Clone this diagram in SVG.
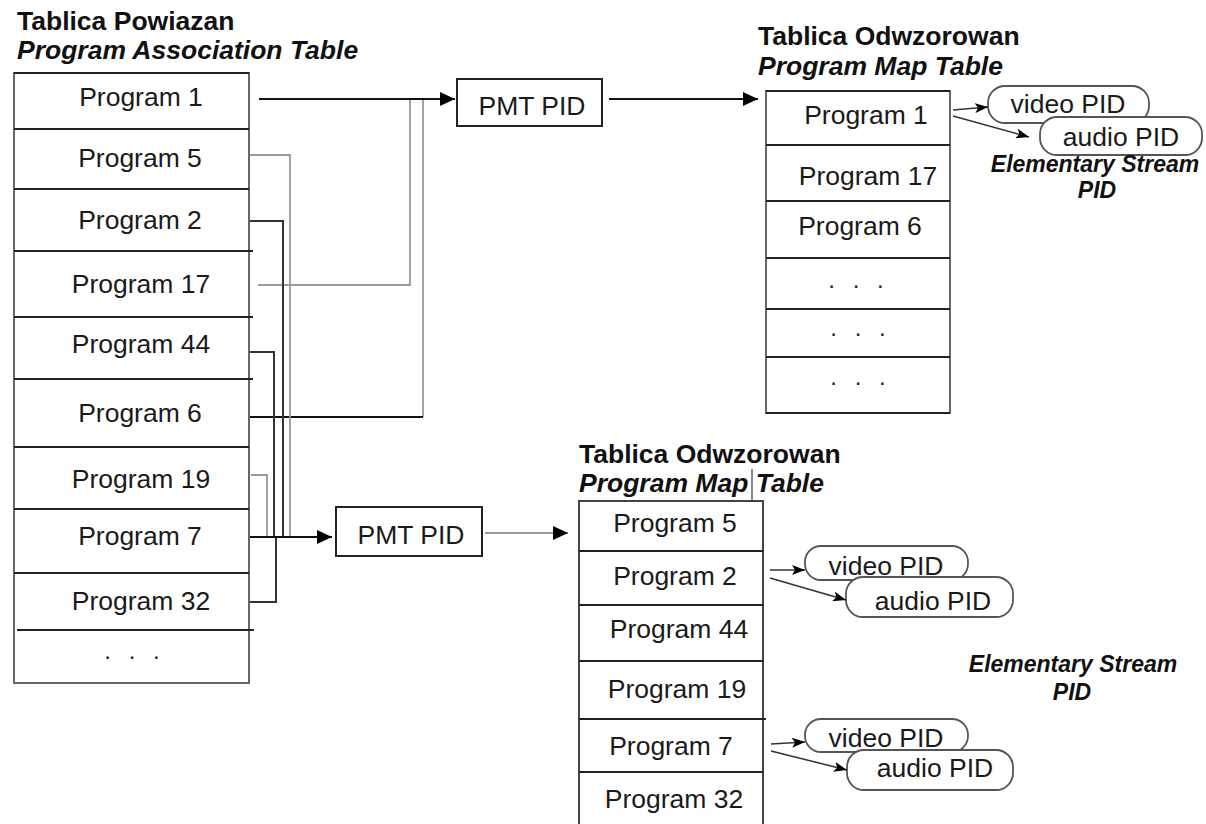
<svg xmlns="http://www.w3.org/2000/svg" width="1206" height="824" viewBox="0 0 1206 824">
  <style>
    .bg { fill: #ffffff; }
    .title { font-family: "Liberation Sans", Arial, sans-serif; font-size: 26.5px; font-weight: bold; fill: #111; }
    .subtitle { font-family: "Liberation Sans", Arial, sans-serif; font-size: 26.5px; font-weight: bold; font-style: italic; fill: #111; }
    .cell { font-family: "Liberation Sans", Arial, sans-serif; font-size: 26.5px; fill: #1a1a1a; text-anchor: middle; }
    .dots { font-family: "Liberation Sans", Arial, sans-serif; font-size: 24px; fill: #222; text-anchor: middle; word-spacing: 11px; }
    .es { font-family: "Liberation Sans", Arial, sans-serif; font-size: 23px; font-weight: bold; font-style: italic; fill: #111; text-anchor: middle; }
    .frame { fill: #ffffff; stroke: #666; stroke-width: 2; }
    .row { stroke: #222; stroke-width: 2; }
    .pill { fill: #ffffff; stroke: #555; stroke-width: 1.8; }
    .link-main { fill: none; stroke: #111; stroke-width: 2.2; }
    .link-dark { fill: none; stroke: #333; stroke-width: 2; }
    .link-grey { fill: none; stroke: #999; stroke-width: 1.8; }
    .link-thin { fill: none; stroke: #777; stroke-width: 1.4; }
    .link-es { fill: none; stroke: #333; stroke-width: 1.5; }
  </style>
  <defs>
    <marker id="arrow-big" viewBox="0 0 15 14" refX="15" refY="7" markerWidth="15" markerHeight="14" markerUnits="userSpaceOnUse" orient="auto">
      <path d="M0,0 L15,7 L0,14 z" fill="#000"/>
    </marker>
    <marker id="arrow-small" viewBox="0 0 13 10" refX="13" refY="5" markerWidth="13" markerHeight="10" markerUnits="userSpaceOnUse" orient="auto">
      <path d="M0,0 L13,5 L0,10 L3,5 z" fill="#000"/>
    </marker>
  </defs>

  <rect class="bg" x="0" y="0" width="1206" height="824"/>

  <!-- Program Association Table -->
  <g id="pat">
    <text class="title" x="17" y="30">Tablica Powiazan</text>
    <text class="subtitle" x="17" y="59">Program Association Table</text>
    <rect class="frame" x="14" y="73" width="235" height="610"/>
    <line class="row" x1="14" y1="73" x2="249" y2="73"/>
    <line class="row" x1="14" y1="129" x2="249" y2="129"/>
    <line class="row" x1="14" y1="189" x2="249" y2="189"/>
    <line class="row" x1="14" y1="251" x2="253" y2="251"/>
    <line class="row" x1="14" y1="317" x2="253" y2="317"/>
    <line class="row" x1="14" y1="379" x2="253" y2="379" stroke="#777"/>
    <line class="row" x1="14" y1="447" x2="249" y2="447" stroke="#777"/>
    <line class="row" x1="14" y1="509" x2="249" y2="509"/>
    <line class="row" x1="14" y1="573" x2="249" y2="573"/>
    <line class="row" x1="17" y1="630" x2="254" y2="630"/>
    <text class="cell" x="141" y="106">Program 1</text>
    <text class="cell" x="140" y="167">Program 5</text>
    <text class="cell" x="140" y="229">Program 2</text>
    <text class="cell" x="141" y="293">Program 17</text>
    <text class="cell" x="141" y="353">Program 44</text>
    <text class="cell" x="140" y="422">Program 6</text>
    <text class="cell" x="141" y="488">Program 19</text>
    <text class="cell" x="140" y="545">Program 7</text>
    <text class="cell" x="141" y="610">Program 32</text>
    <text class="dots" x="132" y="659">. . .</text>
  </g>

  <!-- PMT PID box, upper -->
  <g id="pmt-pid-upper">
    <rect x="457" y="79" width="145" height="47" fill="#fff" stroke="#222" stroke-width="2"/>
    <text class="cell" x="532" y="115">PMT PID</text>
  </g>

  <!-- PMT PID box, lower -->
  <g id="pmt-pid-lower">
    <rect x="336" y="507" width="146" height="49" fill="#fff" stroke="#222" stroke-width="2"/>
    <text class="cell" x="411" y="544">PMT PID</text>
  </g>

  <!-- Program Map Table, upper -->
  <g id="pmt-upper">
    <text class="title" x="758" y="45">Tablica Odwzorowan</text>
    <text class="subtitle" x="758" y="75">Program Map Table</text>
    <rect class="frame" x="766" y="91" width="184" height="322"/>
    <line class="row" x1="766" y1="91" x2="950" y2="91" stroke="#666"/>
    <line class="row" x1="766" y1="145" x2="950" y2="145"/>
    <line class="row" x1="766" y1="201" x2="950" y2="201"/>
    <line class="row" x1="766" y1="258" x2="950" y2="258"/>
    <line class="row" x1="766" y1="309" x2="950" y2="309"/>
    <line class="row" x1="766" y1="357" x2="950" y2="357"/>
    <line class="row" x1="766" y1="413" x2="950" y2="413" stroke="#666"/>
    <text class="cell" x="866" y="124">Program 1</text>
    <text class="cell" x="868" y="185">Program 17</text>
    <text class="cell" x="860" y="235">Program 6</text>
    <text class="dots" x="856" y="288">. . .</text>
    <text class="dots" x="858" y="336">. . .</text>
    <text class="dots" x="858" y="385">. . .</text>
  </g>

  <!-- Elementary stream PIDs, upper -->
  <g id="es-upper">
    <rect class="pill" x="988" y="86" width="161" height="37" rx="17" ry="17"/>
    <text class="cell" x="1068" y="113">video PID</text>
    <rect class="pill" x="1040" y="117" width="162" height="38" rx="17" ry="17"/>
    <text class="cell" x="1121" y="146">audio PID</text>
    <text class="es" x="1095" y="172">Elementary Stream</text>
    <text class="es" x="1097" y="198">PID</text>
  </g>

  <!-- Program Map Table, lower -->
  <g id="pmt-lower">
    <text class="title" x="579" y="463">Tablica Odwzorowan</text>
    <text class="subtitle" x="579" y="492">Program Map Table</text>
    <line x1="752" y1="469" x2="752" y2="501" stroke="#555" stroke-width="1.4"/>
    <path d="M579,824 V501 H763 V824" fill="#fff" stroke="#444" stroke-width="2"/>
    <line class="row" x1="579" y1="551" x2="763" y2="551"/>
    <line class="row" x1="579" y1="605" x2="763" y2="605"/>
    <line class="row" x1="579" y1="661" x2="763" y2="661"/>
    <line class="row" x1="579" y1="719" x2="766" y2="719"/>
    <line class="row" x1="579" y1="772" x2="763" y2="772"/>
    <text class="cell" x="675" y="532">Program 5</text>
    <text class="cell" x="675" y="585">Program 2</text>
    <text class="cell" x="679" y="638">Program 44</text>
    <text class="cell" x="677" y="698">Program 19</text>
    <text class="cell" x="671" y="755">Program 7</text>
    <text class="cell" x="674" y="808">Program 32</text>
  </g>

  <!-- Elementary stream PIDs, lower -->
  <g id="es-lower-1">
    <rect class="pill" x="805" y="546" width="163" height="34" rx="16" ry="16"/>
    <text class="cell" x="886" y="575">video PID</text>
    <rect class="pill" x="846" y="577" width="167" height="40" rx="17" ry="17"/>
    <text class="cell" x="933" y="610">audio PID</text>
  </g>
  <g id="es-lower-label">
    <text class="es" x="1073" y="672">Elementary Stream</text>
    <text class="es" x="1072" y="700">PID</text>
  </g>
  <g id="es-lower-2">
    <rect class="pill" x="805" y="719" width="163" height="33" rx="16" ry="16"/>
    <text class="cell" x="886" y="747">video PID</text>
    <rect class="pill" x="847" y="750" width="166" height="40" rx="17" ry="17"/>
    <text class="cell" x="935" y="777">audio PID</text>
  </g>

  <!-- Connectors -->
  <g id="connectors">
    <!-- to upper PMT PID -->
    <path class="link-grey" d="M258,285 H410 V99"/>
    <path class="link-grey" d="M423,417 V99"/>
    <path class="link-main" d="M250,417 H423"/>
    <path class="link-main" d="M259,99 H455" marker-end="url(#arrow-big)"/>
    <path class="link-main" d="M609,99 H758" marker-end="url(#arrow-big)"/>

    <!-- to lower PMT PID -->
    <path class="link-grey" d="M250,155 H290 V537"/>
    <path class="link-dark" d="M250,221 H283 V537"/>
    <path class="link-dark" d="M250,352 H274 V537"/>
    <path class="link-grey" d="M251,475 H267 V537"/>
    <path class="link-dark" d="M250,602 H276 V537"/>
    <path class="link-main" d="M250,537 H332" marker-end="url(#arrow-big)"/>
    <path class="link-thin" d="M485,533 H568" marker-end="url(#arrow-big)"/>

    <!-- elementary stream arrows -->
    <path class="link-es" d="M953,110 L988,107" marker-end="url(#arrow-small)"/>
    <path class="link-es" d="M953,116 L1029,137" marker-end="url(#arrow-small)"/>
    <path class="link-es" d="M770,570 L805,570" marker-end="url(#arrow-small)"/>
    <path class="link-es" d="M770,578 L846,600" marker-end="url(#arrow-small)"/>
    <path class="link-es" d="M771,744 L805,742" marker-end="url(#arrow-small)"/>
    <path class="link-es" d="M771,751 L847,770" marker-end="url(#arrow-small)"/>
  </g>
</svg>
